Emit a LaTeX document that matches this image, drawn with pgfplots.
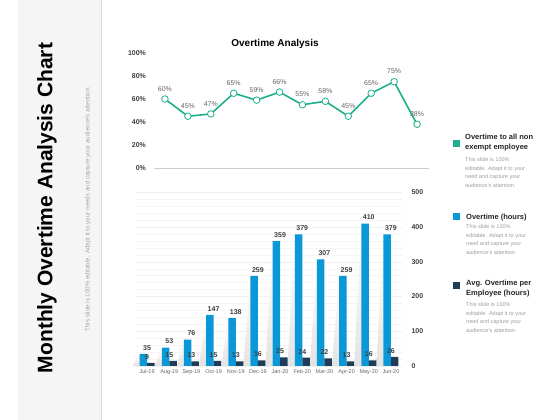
\documentclass[border=0pt]{standalone}
\usepackage{pgfplots}
\pgfplotsset{compat=1.18}
\usepackage{fontspec}
\setmainfont{Liberation Sans}
\definecolor{teal1}{HTML}{1EB08C}
\definecolor{blue1}{HTML}{0A98D8}
\definecolor{navy1}{HTML}{1F3D58}
\definecolor{lbl}{HTML}{404040}
\begin{document}
\begin{tikzpicture}[x=1pt,y=1pt]
\path[use as bounding box, fill=white] (0,0) rectangle (560,420);
\fill[black!4] (18,0) rectangle (101,420);
\draw[gray!30] (101,0) -- (101,420);
\node[rotate=90, font=\fontsize{21}{25}\selectfont\bfseries] at (47,212) {Monthly Overtime Analysis Chart};
\node[rotate=90, font=\fontsize{6.2}{7}\selectfont, text=gray!70] at (88,211) {This slide is 100\% editable. Adapt it to your needs and capture your audience's attention.};
\node[font=\fontsize{10}{12}\selectfont\bfseries] at (275,376) {Overtime Analysis};

\begin{axis}[at={(153.5pt,252pt)}, anchor=south west, scale only axis, width=275pt, height=115pt,
  xmin=-0.5, xmax=11.5, ymin=0, ymax=100,
  axis x line*=bottom, axis y line*=left, y axis line style={draw=none}, x axis line style={gray!40},
  xtick=\empty, minor xtick={-0.5,0.5,...,11.5}, xminorgrids, minor grid style={gray!20},
  ytick={0,20,...,100}, yticklabel={\pgfmathprintnumber{\tick}\%}, major tick length=0, minor tick length=0,
  y tick label style={font=\fontsize{7}{8}\selectfont\bfseries, text=lbl, xshift=-4pt},
  /pgf/number format/assume math mode=true,
  clip=false,
  nodes near coords={\pgfmathprintnumber{\pgfplotspointmeta}\%},
  nodes near coords style={font=\fontsize{7}{8}\selectfont, text=gray!80!black, yshift=4pt},
]
\addplot[teal1, line width=1.6pt, mark=*, mark size=3.3pt, mark options={fill=white, draw=teal1, line width=0.8pt}] coordinates {(0,60)(1,45)(2,47)(3,65)(4,59)(5,66)(6,55)(7,58)(8,45)(9,65)(10,75)(11,38)};
\end{axis}

\begin{axis}[at={(136pt,54pt)}, anchor=south west, scale only axis, width=266pt, height=173.75pt,
  xmin=-0.5, xmax=11.5, ymin=0, ymax=500,
  axis x line*=bottom, axis y line*=right, axis line style={draw=none},
  xtick={0,...,11}, xticklabels={Jul-19,Aug-19,Sep-19,Oct-19,Nov-19,Dec-19,Jan-20,Feb-20,Mar-20,Apr-20,May-20,Jun-20},
  ytick={0,100,...,500}, minor y tick num=4, ymajorgrids, yminorgrids,
  major grid style={gray!12}, minor grid style={gray!8},
  major tick length=0, minor tick length=0,
  y tick label style={font=\fontsize{7}{8}\selectfont\bfseries, text=lbl, xshift=6pt},
  x tick label style={font=\fontsize{5.5}{6}\selectfont, text=gray!80!black},
  /pgf/number format/assume math mode=true,
  clip=false,
]
\foreach \i/\v in {0/35,1/53,2/76,3/147,4/138,5/259,6/359,7/379,8/307,9/259,10/410,11/379}{
  \pgfmathsetmacro\xa{\i-0.338}
  \pgfmathsetmacro\xb{\i-0.66}
  \edef\temp{\noexpand\addplot[draw=none, left color=white, right color=gray!22, shading angle=0] coordinates {(\xb,0) (\xa,0) (\xa,\v)} -- cycle;}
  \temp
}
\addplot[ybar, bar width=7.5pt, fill=blue1, draw=none, bar shift=-3.75pt, nodes near coords, nodes near coords style={font=\fontsize{7}{8}\selectfont\bfseries, text=lbl}] coordinates {(0,35)(1,53)(2,76)(3,147)(4,138)(5,259)(6,359)(7,379)(8,307)(9,259)(10,410)(11,379)};
\addplot[ybar, bar width=7.5pt, fill=navy1, draw=none, bar shift=3.75pt, nodes near coords, nodes near coords style={font=\fontsize{7}{8}\selectfont\bfseries, text=lbl}] coordinates {(0,9)(1,15)(2,13)(3,15)(4,13)(5,16)(6,25)(7,24)(8,22)(9,13)(10,16)(11,26)};
\end{axis}

\fill[teal1] (453,273) rectangle (460,280);
\node[anchor=north west, align=left, font=\fontsize{7.5}{10}\selectfont\bfseries, text=black!85, inner sep=0] at (465,286.5) {Overtime to all non\\exempt employee};
\node[anchor=north west, align=left, font=\fontsize{5.5}{8.5}\selectfont, text=gray!75, inner sep=0] at (465,262.5) {This slide is 100\%\\editable. Adapt it to your\\need and capture your\\audience's attention.};

\fill[blue1] (453,200) rectangle (460,207);
\node[anchor=north west, align=left, font=\fontsize{7.5}{10}\selectfont\bfseries, text=black!85, inner sep=0] at (466,206.5) {Overtime (hours)};
\node[anchor=north west, align=left, font=\fontsize{5.5}{8.5}\selectfont, text=gray!75, inner sep=0] at (466,195.5) {This slide is 100\%\\editable. Adapt it to your\\need and capture your\\audience's attention.};

\fill[navy1] (453,131) rectangle (460,138);
\node[anchor=north west, align=left, font=\fontsize{7.5}{10}\selectfont\bfseries, text=black!85, inner sep=0] at (466,140) {Avg. Overtime per\\Employee (hours)};
\node[anchor=north west, align=left, font=\fontsize{5.5}{8.5}\selectfont, text=gray!75, inner sep=0] at (466,117.5) {This slide is 100\%\\editable. Adapt it to your\\need and capture your\\audience's attention.};
\end{tikzpicture}
\end{document}
